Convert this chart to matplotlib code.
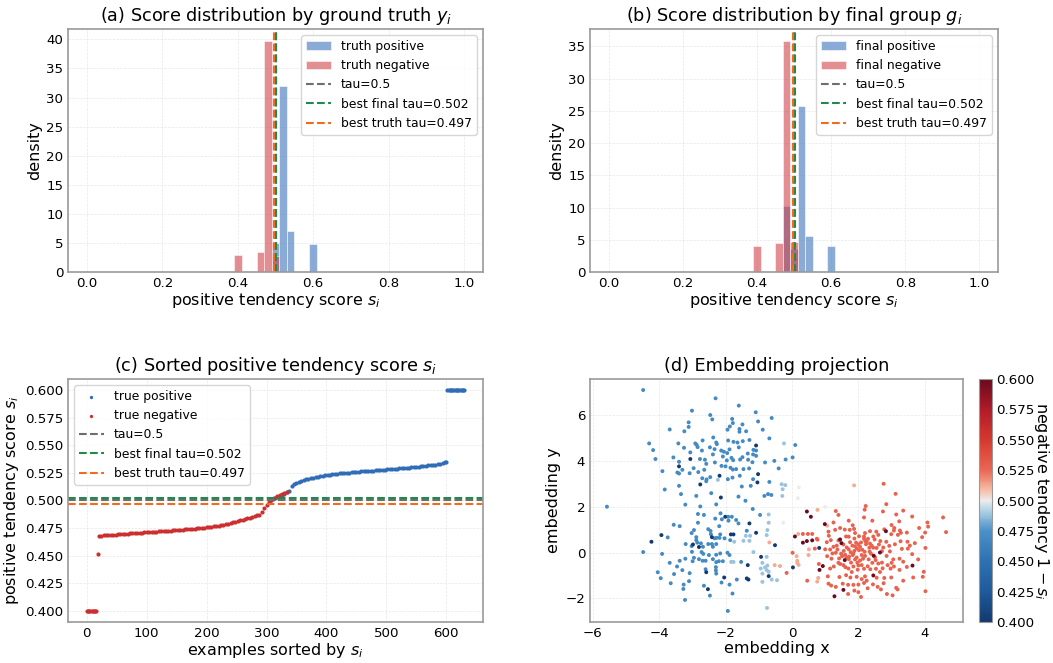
import numpy as np
import matplotlib
matplotlib.use("Agg")
import matplotlib.pyplot as plt
from matplotlib.colors import LinearSegmentedColormap

# ---- histogram data (density per bin) ----
bin_edges = [0.39, 0.41, 0.43, 0.45, 0.47, 0.49, 0.51, 0.53, 0.55, 0.57, 0.59, 0.61]
truth_pos_density = [0, 0, 0, 0, 0, 5.0, 32.0, 7.1, 0, 0, 4.9]
truth_neg_density = [3.0, 0, 0, 3.4, 39.8, 2.8, 0, 0, 0, 0, 0]
final_pos_density = [0, 0, 0, 0, 10.2, 3.6, 25.7, 5.6, 0, 0, 4.0]
final_neg_density = [4.1, 0, 0, 4.5, 35.9, 4.6, 0, 0, 0, 0, 0]

tau = 0.5
best_final_tau = 0.502
best_truth_tau = 0.497

# ---- sorted scores (c) ----
neg_low_rank = [0, 2, 4, 6, 8, 10, 12, 14, 16]
neg_low_score = [0.400] * 9
neg_gap_rank = [18]
neg_gap_score = [0.452]
neg_curve_score = [
    .4680, .4682, .4684, .4685, .4687, .4689, .4690, .4692, .4694, .4695,
    .4697, .4699, .4700, .4702, .4703, .4705, .4706, .4708, .4709, .4711,
    .4712, .4714, .4715, .4717, .4718, .4720, .4722, .4723, .4725, .4726,
    .4728, .4730, .4732, .4734, .4735, .4737, .4739, .4741, .4743, .4744,
    .4746, .4748, .4750, .4752, .4755, .4757, .4760, .4763, .4766, .4769,
    .4772, .4776, .4781, .4785, .4790, .4795, .4801, .4807, .4813, .4819,
    .4825, .4832, .4840, .4846, .4852, .4858, .4865, .4872, .4900, .4930,
    .4958, .4985, .5005, .5020]
neg_late_rank = [318, 322, 326, 330, 334]
neg_late_score = [.5037, .5048, .5058, .5068, .5078]

pos_curve_score = [
    .4995, .5010, .5022, .5033, .5043, .5053, .5063, .5075, .5090, .5130,
    .5145, .5160, .5172, .5180, .5186, .5191, .5196, .5200, .5205, .5210,
    .5214, .5219, .5224, .5228, .5232, .5235, .5238, .5240, .5243, .5245,
    .5247, .5249, .5251, .5253, .5255, .5257, .5259, .5261, .5263, .5265,
    .5267, .5268, .5270, .5271, .5273, .5275, .5276, .5278, .5279, .5281,
    .5283, .5284, .5286, .5288, .5290, .5292, .5294, .5296, .5298, .5300,
    .5302, .5305, .5307, .5309, .5312, .5314, .5317, .5319, .5322, .5324,
    .5327, .5331, .5337, .5345, .5352]
pos_top_score = [0.600] * 15

# ---- embedding (d) ----
blue_x = [-4.48, -2.30, -3.01, -2.46, -2.40, -3.11, -3.11, -3.68, -3.24, -2.37, -4.30, -2.69, -3.42, -2.91,
          -2.87, -2.84, -2.28, -2.26, -4.18, -3.25, -2.47, -2.71, -2.33, -3.06, -4.11, -3.57, -3.40, -2.38,
          -2.77, -2.62, -2.58, -2.32, -2.96, -3.90, -3.45, -3.40, -3.30, -3.08, -2.82, -2.64, -2.70, -2.57,
          -2.58, -2.46, -3.40, -3.83, -3.34, -2.88, -2.43,
          -1.60, -1.09, -0.61, -1.80, -1.78, -1.49, -1.02, -1.87, -1.94, -1.58, -1.58, -1.38, -0.88, -0.68,
          -1.92, -1.76, -1.64, -1.48, -1.28, 0.10, -2.13, -2.05, -1.88, -1.60, -1.95, -1.16, -1.08, -1.17,
          -1.08, -1.33, -2.08, -1.82, -1.77, -1.96, -1.56, -1.49, -1.32, -1.19, -0.81, -0.53, -0.19, 0.02,
          -2.12, -2.00, -1.85, -1.78, -1.68, -1.46, -1.29, -1.17, -1.93, -1.79, -1.57, -1.51, -1.24, -0.68,
          -0.40, -0.72, -1.61, -0.83, -0.62,
          -5.57, -3.21, -2.28, -2.76, -2.83, -2.65, -2.31, -3.56, -3.38, -2.83, -2.52, -2.95, -2.45, -3.02,
          -3.74, -2.88, -2.44, -2.33, -2.27, -2.88, -2.85, -2.74, -2.52, -2.41, -2.28, -3.20, -3.02, -2.68,
          -2.38, -4.48, -3.91, -3.01, -2.72, -2.67, -2.28, -2.50, -3.21, -2.95, -2.80, -3.38, -2.99, -2.69,
          -2.60, -2.38, -2.28, -3.68, -3.46, -2.29, -4.04, -3.30, -3.08, -2.60, -2.29, -2.28, -3.55, -3.95,
          -3.10, -3.65, -3.26, -2.65, -3.27, -2.47, -3.22,
          -1.40, -1.18, -2.15, -0.96, -1.92, -1.81, -2.11, -1.91, -1.68, -1.61, -2.19, -2.16, -2.18, -2.03,
          -1.86, -2.16, -1.94, -1.88, -2.20, -2.08, -1.53, -1.66, -2.12, -1.88, -1.79, -1.93, -1.36]
blue_y = [7.09, 6.73, 6.19, 6.00, 5.81, 5.68, 5.48, 5.37, 5.29, 5.02, 4.76, 4.89, 4.76, 4.76,
          4.70, 4.60, 4.80, 4.73, 4.47, 4.57, 4.59, 4.45, 4.51, 4.37, 4.08, 4.15, 3.96, 4.28,
          4.08, 4.05, 3.87, 3.93, 3.68, 3.55, 3.49, 3.45, 3.61, 3.46, 3.51, 3.61, 3.24, 3.19,
          3.11, 3.29, 2.91, 2.75, 2.55, 2.47, 2.59,
          6.41, 6.12, 5.87, 5.83, 5.65, 5.59, 5.72, 5.50, 5.36, 5.39, 5.27, 5.29, 5.36, 4.98,
          4.89, 4.83, 4.80, 4.86, 4.91, 4.69, 4.45, 4.40, 4.50, 4.59, 4.34, 4.48, 4.45, 4.28,
          4.22, 4.32, 4.19, 4.13, 4.03, 4.02, 4.06, 4.16, 4.05, 3.94, 3.93, 4.00, 4.06, 4.15,
          3.78, 3.76, 3.70, 3.62, 3.64, 3.64, 3.67, 3.20, 3.20, 3.27, 3.35, 2.88, 2.91, 3.08,
          3.67, 2.55, 2.44, 2.47, 2.51,
          2.00, 2.09, 2.10, 2.01, 1.68, 1.64, 1.48, 1.21, 1.15, 1.30, 1.02, 0.98, 0.94, 0.85,
          0.66, 0.67, 0.80, 0.62, 0.64, 0.54, 0.43, 0.40, 0.37, 0.37, 0.37, 0.37, 0.28, 0.25,
          0.25, 0.02, -0.06, 0.03, 0.02, -0.06, -0.10, -0.11, -0.27, -0.23, -0.29, -0.36, -0.38, -0.36,
          -0.36, -0.29, -0.42, -0.45, -0.61, -0.64, -0.86, -0.77, -0.90, -0.73, -0.78, -0.92, -0.94, -1.12,
          -1.25, -1.34, -1.40, -1.45, -1.59, -1.88, -2.07,
          2.26, 1.90, 1.71, 1.64, 1.56, 1.56, 1.45, 1.39, 1.42, 1.27, 1.15, 0.79, 0.64, 0.62,
          0.54, -0.04, -0.01, -0.11, -0.38, -0.38, -0.41, -1.18, -1.31, -1.40, -1.79, -2.55, 0.95]
blue_tend = 0.470

navy_x = [-3.06, -3.40, -2.76, -1.08, -1.02, -2.18, -1.04, -2.14, -3.93, -2.41, -4.23, -2.98, -2.80,
          -2.58, -2.53, -2.01, -1.28, -1.84, -1.76, -1.08, -0.51, -0.93, -1.33, 0.03, -2.04, -1.36,
          -1.31, -0.70, 0.82]
navy_y = [4.08, 3.76, 2.97, 4.67, 3.42, 3.35, 3.06, 2.40, 0.76, 0.67, 0.47, 0.35, 0.24,
          -0.86, -1.60, 1.56, 1.27, 0.79, 0.79, 0.86, 0.32, -0.19, -0.55, -0.65, -1.09, -1.13,
          -1.18, -1.03, 0.20]
navy_tend = 0.400

pale_blue_x = [-0.24, -0.31, -0.28, -0.20, -0.29, -0.70, -0.70, -0.74, -0.76, -1.39, -1.26, -1.74,
               -1.46, -1.28, -1.16, -0.76, -1.83, -1.76, -0.89, -0.74, -0.94, -0.81, -0.76, -0.70,
               -0.89, -0.89, -0.61, -0.45, -0.75, -2.23]
pale_blue_y = [4.76, 2.98, 2.76, 2.94, 2.47, 1.66, 1.30, 0.98, 0.76, 0.73, 0.73, 0.47,
               0.51, 0.51, 0.02, -0.19, -0.41, -0.41, -0.45, -0.57, -0.70, -0.65, -0.77, -0.84,
               -0.92, -1.28, -1.18, -1.21, -2.42, 3.17]
pale_blue_tend = 0.488

grey_x = [0.21, 0.18, -0.26, 1.00]
grey_y = [2.84, 2.37, 1.30, 1.99]
grey_tend = 0.500

pink_x = [-0.68, -0.52, -0.36, 0.16, 0.16, 0.14, 1.87, 0.77, 1.06, 0.19, 0.51, 0.50, 0.79, 0.76, 0.20]
pink_y = [0.44, -0.55, -0.59, -0.36, -0.45, -0.16, 2.93, 1.86, 1.17, 0.81, 0.14, -0.11, -1.11, -1.27, -0.54]
pink_tend = 0.512

red_x = [0.02, -0.16, 2.76, 3.12, 2.84, 2.22, 1.32, 2.19, 2.74, 3.35, 3.62, 4.55, 3.14, 1.40, 1.71,
         2.17, 2.42, 3.23, 4.08, 1.25, 3.83, 4.10, 3.00, 3.08, 1.83, 1.87, 1.45, 1.30, 1.10, 1.59,
         1.74, 2.78, 3.07, 3.25, 3.28, 3.46, 4.01, 4.64, 2.54, 2.35, 2.60, 2.99, 3.19, 0.33, 0.48,
         0.61, 0.75, 0.77, 1.11, 1.17, 1.40, 1.63, 1.71, 1.93, 1.88, 2.02, 2.17, 2.17, 2.21, 2.29,
         2.08, 1.90, 2.00, 2.23, 2.35, 2.49, 2.66, 2.84, 2.93, 3.10, 3.31, 3.49, 3.70, 4.02, 3.92,
         3.48, 3.27, 0.69, 1.00, 1.15, 1.32, 1.37, 1.56, 1.71, 1.77, 1.88, 2.02, 2.19, 2.33, 2.45,
         2.71, 2.34, 2.10, 1.83, 1.64, 1.51, 1.71, 1.90, 1.97, 2.14, 2.31, 2.52, 2.71, 3.05, 3.24,
         3.62, 1.22, 1.19, 1.06, 1.42, 0.81, 1.26, 1.45, 1.61, 1.78, 1.85, 2.00, 2.17, 2.36, 2.53,
         2.73, 2.97, 3.07, 3.24, 3.46, 3.97, 0.46, 1.08, 1.43, 1.63, 1.76, 1.95, 2.20, 2.10, 2.25,
         2.55, 2.78, 2.99, 3.35, 3.65, 3.94, 1.10, 1.18, 1.53, 1.69, 1.85, 2.00, 2.17, 2.44, 2.58,
         2.76, 3.14, 3.18, 1.32, 1.69, 1.88, 2.00, 2.08, 2.28, 2.68, 2.86, 3.03, 4.02,
         1.55, 1.65, 1.75, 1.82, 1.95, 2.05, 2.12, 2.25, 2.40, 2.55, 2.62, 2.75, 1.48, 1.60, 1.72,
         1.85, 1.95, 2.05, 2.20, 2.38, 2.50, 2.60, 2.85, 2.95, 1.40, 1.55, 1.70, 1.80, 1.98, 2.10,
         2.28, 2.42, 2.65, 2.88, 1.35, 1.25, 3.00, 3.35, 3.55, 3.80, 1.05, 1.15, 2.20, 2.45, 1.90]
red_y = [-0.01, -0.89, 3.00, 2.56, 2.11, 2.03, 1.81, 1.87, 1.79, 1.83, 1.57, 1.53, 1.66, 1.64, 1.39,
         1.53, 1.39, 1.36, 1.31, 1.31, 1.07, 1.13, 1.20, 1.07, 1.19, 1.03, 1.07, 0.99, 0.91, 1.00,
         0.99, 1.01, 0.96, 0.96, 0.86, 0.87, 0.87, 0.89, 0.91, 0.93, 0.77, 0.80, 0.77, 0.81, 0.81,
         0.81, 0.60, 0.56, 0.73, 0.54, 0.53, 0.70, 0.69, 0.43, 0.61, 0.71, 0.70, 0.60, 0.50, 0.60,
         0.44, 0.27, 0.36, 0.36, 0.39, 0.57, 0.50, 0.47, 0.29, 0.36, 0.16, 0.17, 0.41, 0.20, 0.67,
         0.47, 0.49, 0.17, 0.14, 0.13, -0.01, 0.13, 0.07, 0.14, 0.01, 0.07, 0.10, 0.03, 0.21, 0.21,
         0.06, 0.04, -0.11, -0.11, -0.21, -0.16, -0.29, -0.30, -0.44, -0.27, -0.30, -0.33, -0.44, -0.30, -0.27,
         -0.07, -0.04, -0.27, -0.16, -0.26, -0.50, -0.61, -0.50, -0.64, -0.44, -0.61, -0.56, -0.71, -0.73, -0.71,
         -0.69, -0.70, -0.61, -0.76, -0.63, -0.84, -1.23, -1.04, -1.07, -0.99, -1.09, -1.06, -1.04, -1.16, -1.23,
         -1.10, -1.11, -1.09, -1.23, -1.09, -1.06, -1.36, -1.44, -1.36, -1.41, -1.41, -1.40, -1.33, -1.39, -1.50,
         -1.34, -1.54, -1.61, -1.50, -1.81, -1.66, -1.73, -1.94, -1.56, -1.61, -1.81, -1.87, -1.69,
         0.35, 0.22, 0.45, 0.30, 0.18, 0.25, 0.12, 0.48, 0.30, 0.20, 0.35, 0.22, -0.05, -0.10, -0.18,
         -0.05, -0.22, -0.35, -0.15, -0.05, -0.20, -0.48, -0.15, 0.05, -0.45, -0.55, -0.70, -0.85, -0.75, -0.55,
         -0.60, -0.45, -0.85, -0.55, 0.30, 0.25, -0.45, -0.40, 0.30, -0.30, 0.45, -0.70, 0.85, 0.70, 0.85]
red_tend = 0.528

maroon_x = [0.45, 0.57, 0.99, 2.83, 0.61, 0.33, 0.45, 1.45, 1.49, 2.65, 2.46, 1.59, 0.93, 3.63,
            0.83, 2.45, 1.55, 1.28, 0.09]
maroon_y = [1.79, 1.56, 1.24, 0.93, 0.53, 0.43, 0.50, 0.57, 0.41, 0.00, -0.14, -0.33, -0.59, -0.57,
            -0.76, -1.00, -1.63, -1.91, 0.70]
maroon_tend = 0.600

# colour scale as it appears on the colourbar (0.400 -> 0.600)
cbar_stops = [0.0, 0.125, 0.25, 0.375, 0.45, 0.5, 0.55, 0.625, 0.75, 0.875, 1.0]
cbar_colors = ['#123a70', '#1f5a9c', '#2e71b2', '#4a91c8', '#a6cbe2', '#eeeeee',
               '#f6b59e', '#ea6753', '#d5392f', '#b11b28', '#6a0a1f']

# ---- style ----
C_POS = '#4a7fc1'
C_NEG = '#cf3c45'
C_TAU = '#6e6e6e'
C_FINAL = '#1e8a4c'
C_TRUTH = '#f26b1d'
SPINE = '#9a9a9a'

plt.rcParams['font.family'] = 'DejaVu Sans'
plt.rcParams['mathtext.fontset'] = 'dejavusans'

fig = plt.figure(figsize=(10.53, 6.63), dpi=100)
W, H = 1053.0, 663.0


def box(l, t, r, b):
    return [l / W, 1 - b / H, (r - l) / W, (b - t) / H]


ax_a = fig.add_axes(box(68, 29, 483, 272))
ax_b = fig.add_axes(box(590, 29, 998, 272))
ax_c = fig.add_axes(box(68, 379, 483, 622))
ax_d = fig.add_axes(box(590, 379, 963, 622))
cax = fig.add_axes(box(979, 379, 992, 622))

TITLE_FS = 12.7
LABEL_FS = 11.5
TICK_FS = 9.6
LEG_FS = 8.9


def style(ax):
    ax.grid(True, linestyle='--', linewidth=0.5, color='#dddddd', alpha=0.7)
    ax.set_axisbelow(True)
    for s in ax.spines.values():
        s.set_color(SPINE)
        s.set_linewidth(1.2)
    ax.tick_params(labelsize=TICK_FS, length=0, pad=3.5)


centers = [(bin_edges[i] + bin_edges[i + 1]) / 2 for i in range(len(bin_edges) - 1)]


def hist_panel(ax, pos, neg, pos_label, neg_label, title):
    ax.hist(centers, bins=bin_edges, weights=pos, color=C_POS, alpha=0.65,
            edgecolor='white', linewidth=0.6, label=pos_label)
    ax.hist(centers, bins=bin_edges, weights=neg, color=C_NEG, alpha=0.58,
            edgecolor='white', linewidth=0.6, label=neg_label)
    ax.axvline(tau, color=C_TAU, ls='--', lw=1.5, label='tau=0.5')
    ax.axvline(best_final_tau, color=C_FINAL, ls='--', lw=1.5, label='best final tau=0.502')
    ax.axvline(best_truth_tau, color=C_TRUTH, ls='--', lw=1.5, label='best truth tau=0.497')
    ax.set_xlim(-0.05, 1.05)
    ax.set_xticks([0.0, 0.2, 0.4, 0.6, 0.8, 1.0])
    ax.set_xlabel('positive tendency score $s_i$', fontsize=LABEL_FS, labelpad=1)
    ax.set_ylabel('density', fontsize=LABEL_FS, labelpad=3)
    ax.set_title(title, fontsize=TITLE_FS)
    ax.legend(loc='upper right', fontsize=LEG_FS)
    style(ax)


hist_panel(ax_a, truth_pos_density, truth_neg_density, 'truth positive', 'truth negative',
           '(a) Score distribution by ground truth $y_i$')
ax_a.set_yticks(range(0, 41, 5))
hist_panel(ax_b, final_pos_density, final_neg_density, 'final positive', 'final negative',
           '(b) Score distribution by final group $g_i$')
ax_b.set_yticks(range(0, 36, 5))

# ---- (c) ----
neg_curve_rank = np.arange(20, 20 + 4 * len(neg_curve_score), 4)
pos_curve_rank = np.arange(306, 306 + 4 * (len(pos_curve_score) - 1), 4).tolist() + [600]
pos_top_rank = np.arange(602, 602 + 2 * len(pos_top_score), 2)

ax_c.scatter(list(pos_curve_rank) + list(pos_top_rank), pos_curve_score + pos_top_score,
             s=9, color='#2f6db6', linewidths=0, label='true positive')
ax_c.scatter(neg_low_rank + neg_gap_rank + list(neg_curve_rank) + neg_late_rank,
             neg_low_score + neg_gap_score + neg_curve_score + neg_late_score,
             s=9, color='#cc2f2f', linewidths=0, label='true negative')
ax_c.axhline(tau, color=C_TAU, ls='--', lw=1.5, label='tau=0.5')
ax_c.axhline(best_final_tau, color=C_FINAL, ls='--', lw=1.5, label='best final tau=0.502')
ax_c.axhline(best_truth_tau, color=C_TRUTH, ls='--', lw=1.5, label='best truth tau=0.497')
ax_c.set_yticks(np.arange(0.400, 0.6001, 0.025))
ax_c.yaxis.set_major_formatter(matplotlib.ticker.FormatStrFormatter('%.3f'))
ax_c.set_xticks(range(0, 601, 100))
ax_c.set_xlabel('examples sorted by $s_i$', fontsize=LABEL_FS, labelpad=1)
ax_c.set_ylabel('positive tendency score $s_i$', fontsize=LABEL_FS, labelpad=3)
ax_c.set_title('(c) Sorted positive tendency score $s_i$', fontsize=TITLE_FS)
ax_c.legend(loc='upper left', fontsize=LEG_FS, scatterpoints=1, markerscale=0.8)
style(ax_c)

# ---- (d) ----
cmap = LinearSegmentedColormap.from_list('tend', list(zip(cbar_stops, cbar_colors)))
groups = [(blue_x, blue_y, blue_tend), (pale_blue_x, pale_blue_y, pale_blue_tend),
          (grey_x, grey_y, grey_tend), (pink_x, pink_y, pink_tend),
          (red_x, red_y, red_tend), (navy_x, navy_y, navy_tend),
          (maroon_x, maroon_y, maroon_tend)]
ex, ey, ec = [], [], []
for gx, gy, gt in groups:
    ex += gx
    ey += gy
    ec += [gt] * len(gx)
sc = ax_d.scatter(ex, ey, c=ec, cmap=cmap, vmin=0.4, vmax=0.6, s=8, linewidths=0)
ax_d.set_xticks([-6, -4, -2, 0, 2, 4])
ax_d.set_yticks([-2, 0, 2, 4, 6])
ax_d.set_xlabel('embedding x', fontsize=LABEL_FS, labelpad=1)
ax_d.set_ylabel('embedding y', fontsize=LABEL_FS, labelpad=3)
ax_d.set_title('(d) Embedding projection', fontsize=TITLE_FS)
style(ax_d)

cb = fig.colorbar(sc, cax=cax)
cb.set_ticks(np.arange(0.400, 0.6001, 0.025))
cb.ax.yaxis.set_major_formatter(matplotlib.ticker.FormatStrFormatter('%.3f'))
cb.ax.tick_params(labelsize=TICK_FS, length=0, pad=3)
cb.outline.set_edgecolor(SPINE)
cb.set_label('negative tendency $1 - s_i$', rotation=270, fontsize=LABEL_FS)
cb.ax.yaxis.label.set_va('center')
cb.ax.yaxis.label.set_ha('center')
cb.ax.yaxis.set_label_coords(4.8, 0.5)

fig.savefig('out.png', dpi=100)
